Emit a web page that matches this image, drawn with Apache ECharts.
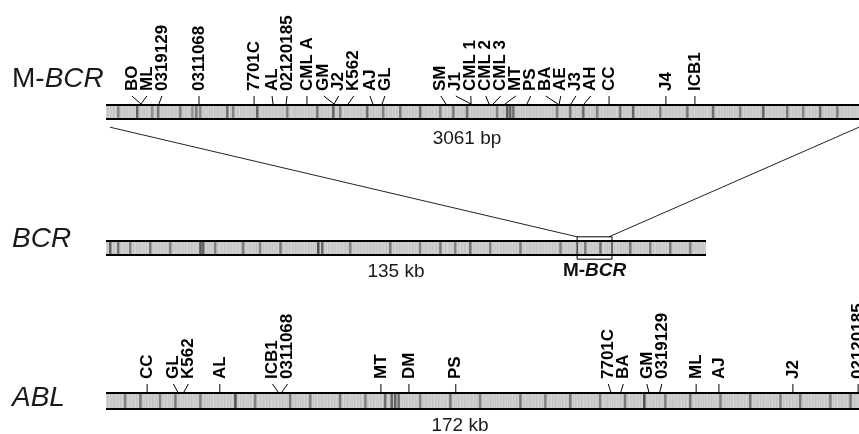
<!DOCTYPE html>
<html><head><meta charset="utf-8">
<script src="https://cdn.jsdelivr.net/npm/echarts@6/dist/echarts.min.js"></script>
<style>html,body{margin:0;padding:0;background:#fff}#c{width:859px;height:434px}</style>
</head><body><div id="c"></div>
<script>
// ---------------- data ----------------
const mbcrLength = 3061; // bp
const bcrLength = 135;   // kb
const ablLength = 172;   // kb

const mbcrNames = ['BO','ML','0319129','0311068','7701C','AL','02120185','CML A','GM','J2','K562','AJ','GL','SM','J1','CML 1','CML 2','CML 3','MT','PS','BA','AE','J3','AH','CC','J4','ICB1'];
const mbcrBreakpoints = [142,142,215,378,602,679,732,817,927,927,984,1085,1122,1382,1484,1484,1557,1573,1622,1711,1837,1842,1890,1943,2045,2276,2394]; // bp

const ablNames = ['CC','GL','K562','AL','ICB1','0311068','MT','DM','PS','7701C','BA','GM','0319129','ML','AJ','J2','02120185'];
const ablBreakpoints = [9.4,16.4,17.8,26.0,39.3,40.2,62.8,69.2,79.9,115.3,117.6,124.0,126.5,134.8,140.0,156.9,171.8]; // kb

const mbcrRegionInBcr = [106.0, 113.85]; // kb

// sequence texture bands: [position, intensity 0-255]
const mbcrBands = [[49,130],[126,100],[187,140],[211,120],[301,130],[350,145],[366,120],[382,135],[492,110],[516,130],[614,100],[736,130],[858,120],[923,100],[951,130],[1061,110],[1126,130],[1195,120],[1276,110],[1358,130],[1411,120],[1467,110],[1589,130],[1630,90],[1642,100],[1655,110],[1833,130],[1886,120],[1939,110],[1996,130],[2089,120],[2142,100],[2252,130],[2362,120],[2467,110],[2577,130],[2671,100],[2768,120],[2833,130],[2902,110],[2972,130]];
const bcrBands = [[0.9,100],[2.7,120],[5.4,130],[9.9,120],[14.4,130],[21.2,90],[21.8,100],[24.5,130],[30.8,120],[34.6,130],[39.2,120],[47.7,80],[48.6,100],[54.9,130],[63.9,120],[70.6,130],[75.2,120],[78.5,130],[81.9,110],[86.4,130],[93.2,120],[102.2,130],[107.8,120],[111.2,110],[117.9,120],[122.4,130],[126.9,120],[131.4,130]];
const ablBands = [[4.3,130],[7.8,120],[12.3,130],[15.8,120],[21.5,130],[29.5,80],[34.0,130],[42.0,120],[46.6,130],[53.4,120],[59.2,130],[63.7,110],[65.2,100],[66.0,100],[66.8,110],[71.7,130],[78.6,120],[85.4,130],[94.6,120],[100.3,130],[106.0,120],[112.8,130],[118.5,120],[122.9,80],[127.7,130],[133.4,120],[140.3,130],[147.1,120],[154.0,130],[158.5,120],[165.4,130],[170.0,120]];

const mbcrLengthLabel = '3061 bp';
const bcrLengthLabel = '135 kb';
const ablLengthLabel = '172 kb';

// ---------------- styling / rendering ----------------
const FONT = '"Liberation Sans", Arial, Helvetica, sans-serif';
const TICK_LEN = 8, LABEL_GAP = 5, LABEL_SPACING = 15;

// fine texture pattern for the bars
const pc = document.createElement('canvas');
const pshades = [206,200,210,196,204,212,198,202,208,194,203,209,199];
pc.width = pshades.length; pc.height = 1;
const pctx = pc.getContext('2d');
pshades.forEach((g,i)=>{ pctx.fillStyle = `rgb(${g},${g},${g})`; pctx.fillRect(i,0,1,1); });
const barPattern = {image: pc, repeat: 'repeat'};

function layoutLabels(px) {
  const order = px.map((v,i)=>i).sort((a,b)=> (px[a]-px[b]) || (a-b));
  const clusters = [];
  for (const i of order) {
    clusters.push({idx:[i], sum:px[i]});
    while (clusters.length > 1) {
      const c = clusters[clusters.length-1], p = clusters[clusters.length-2];
      const pLast = p.sum/p.idx.length + (p.idx.length-1)/2*LABEL_SPACING;
      const cFirst = c.sum/c.idx.length - (c.idx.length-1)/2*LABEL_SPACING;
      if (pLast + LABEL_SPACING > cFirst) { p.idx = p.idx.concat(c.idx); p.sum += c.sum; clusters.pop(); }
      else break;
    }
  }
  const out = new Array(px.length);
  clusters.forEach(c => { const n = c.idx.length, m = c.sum/n; c.idx.forEach((i,k)=>{ out[i] = m + (k-(n-1)/2)*LABEL_SPACING; }); });
  return out;
}

function barRender(params, api) {
  const s = api.coord([api.value(0), 1]);
  const e = api.coord([api.value(1), 0]);
  return {type:'rect', shape:{x:s[0], y:s[1], width:e[0]-s[0], height:e[1]-s[1]}, style:{fill: barPattern}};
}
function bandRender(params, api) {
  const t = api.coord([api.value(0), 1]);
  const b = api.coord([api.value(0), 0]);
  const g = api.value(1);
  return {type:'rect', shape:{x:t[0]-1, y:t[1], width:2.5, height:b[1]-t[1]}, style:{fill:`rgb(${g},${g},${g})`}};
}
function borderRender(params, api) {
  const s = api.coord([api.value(0), 1]);
  const e = api.coord([api.value(1), 0]);
  return {type:'group', children:[
    {type:'line', shape:{x1:s[0], y1:s[1]+1, x2:e[0], y2:s[1]+1}, style:{stroke:'#000', lineWidth:2}},
    {type:'line', shape:{x1:s[0], y1:e[1]-1, x2:e[0], y2:e[1]-1}, style:{stroke:'#000', lineWidth:2}}
  ]};
}
function boxRender(params, api) {
  const s = api.coord([api.value(0), 1.2]);
  const e = api.coord([api.value(1), -0.2]);
  return {type:'rect', shape:{x:s[0], y:s[1], width:e[0]-s[0], height:e[1]-s[1]}, style:{fill:'none', stroke:'#000', lineWidth:1}};
}
function makeTickRender(values, names) {
  let labelX = null;
  return function(params, api) {
    if (params.dataIndex === 0 || !labelX) labelX = layoutLabels(values.map(v => api.coord([v, 1])[0]));
    const p = api.coord([api.value(0), 1]);
    const lx = labelX[params.dataIndex];
    const topY = p[1] - TICK_LEN;
    return {type:'group', children:[
      {type:'line', shape:{x1:lx, y1:topY, x2:p[0], y2:p[1]}, style:{stroke:'#000', lineWidth:1}},
      {type:'text', x:lx, y:topY - LABEL_GAP, rotation:Math.PI/2,
        style:{text:names[params.dataIndex], x:0, y:0, align:'left', verticalAlign:'middle',
               font:`bold 17px ${FONT}`, fill:'#000'}}
    ]};
  };
}

function rowSeries(ai, len, bands, bps, names) {
  const s = [
    {type:'custom', xAxisIndex:ai, yAxisIndex:ai, data:[[0, len]], renderItem:barRender, z:1, silent:true},
    {type:'custom', xAxisIndex:ai, yAxisIndex:ai, data:bands, renderItem:bandRender, z:2, silent:true},
    {type:'custom', xAxisIndex:ai, yAxisIndex:ai, data:[[0, len]], renderItem:borderRender, z:3, silent:true}
  ];
  if (bps) s.push({type:'custom', xAxisIndex:ai, yAxisIndex:ai, data:bps.map(v=>[v,1]), renderItem:makeTickRender(bps, names), z:4, silent:true});
  return s;
}

const chart = echarts.init(document.getElementById('c'), null, {renderer:'canvas'});
const hiddenY = i => ({gridIndex:i, type:'value', min:0, max:1, show:false});
const hiddenX = (i, max) => ({gridIndex:i, type:'value', min:0, max:max, show:false});

chart.setOption({
  animation:false,
  backgroundColor:'#fff',
  grid:[
    {left:106, right:0, top:104, height:16},
    {left:106, width:600, top:240, height:16},
    {left:106, right:0, top:392, height:18}
  ],
  xAxis:[hiddenX(0, mbcrLength), hiddenX(1, bcrLength), hiddenX(2, ablLength)],
  yAxis:[hiddenY(0), hiddenY(1), hiddenY(2)],
  series:[
    ...rowSeries(0, mbcrLength, mbcrBands, mbcrBreakpoints, mbcrNames),
    ...rowSeries(1, bcrLength, bcrBands, null, null),
    {type:'custom', xAxisIndex:1, yAxisIndex:1, data:[mbcrRegionInBcr], renderItem:boxRender, z:5, silent:true},
    ...rowSeries(2, ablLength, ablBands, ablBreakpoints, ablNames)
  ]
});

// connectors and text annotations placed via the axes' scales
const a0 = chart.convertToPixel({gridIndex:0}, [0, -0.45]);
const a1 = chart.convertToPixel({gridIndex:0}, [mbcrLength, -0.45]);
const b0 = chart.convertToPixel({gridIndex:1}, [mbcrRegionInBcr[0], 1.2]);
const b1 = chart.convertToPixel({gridIndex:1}, [mbcrRegionInBcr[1], 1.2]);
const bBelow = chart.convertToPixel({gridIndex:1}, [(mbcrRegionInBcr[0]+mbcrRegionInBcr[1])/2, -1]);

const bigRich = {n:{font:`28px ${FONT}`, fill:'#1a1a1a'}, i:{font:`italic 28px ${FONT}`, fill:'#1a1a1a'}};
chart.setOption({
  graphic:[
    {type:'line', shape:{x1:a0[0]+4, y1:a0[1], x2:b0[0], y2:b0[1]}, style:{stroke:'#222', lineWidth:1}, silent:true},
    {type:'line', shape:{x1:a1[0], y1:a1[1], x2:b1[0]-3, y2:b1[1]}, style:{stroke:'#222', lineWidth:1}, silent:true},
    {type:'text', x:12, y:79, style:{text:'{n|M-}{i|BCR}', rich:bigRich, verticalAlign:'middle'}},
    {type:'text', x:12, y:239, style:{text:'{i|BCR}', rich:bigRich, verticalAlign:'middle'}},
    {type:'text', x:12, y:398, style:{text:'{i|ABL}', rich:bigRich, verticalAlign:'middle'}},
    {type:'text', x:467, y:139, style:{text:mbcrLengthLabel, font:`19px ${FONT}`, fill:'#1a1a1a', align:'center', verticalAlign:'middle'}},
    {type:'text', x:396, y:272, style:{text:bcrLengthLabel, font:`19px ${FONT}`, fill:'#1a1a1a', align:'center', verticalAlign:'middle'}},
    {type:'text', x:bBelow[0], y:271, style:{text:'{b|M-}{bi|BCR}', align:'center', verticalAlign:'middle',
      rich:{b:{font:`bold 19px ${FONT}`, fill:'#111'}, bi:{font:`italic bold 19px ${FONT}`, fill:'#111'}}}},
    {type:'text', x:460, y:426, style:{text:ablLengthLabel, font:`19px ${FONT}`, fill:'#1a1a1a', align:'center', verticalAlign:'middle'}}
  ]
});
</script></body></html>
